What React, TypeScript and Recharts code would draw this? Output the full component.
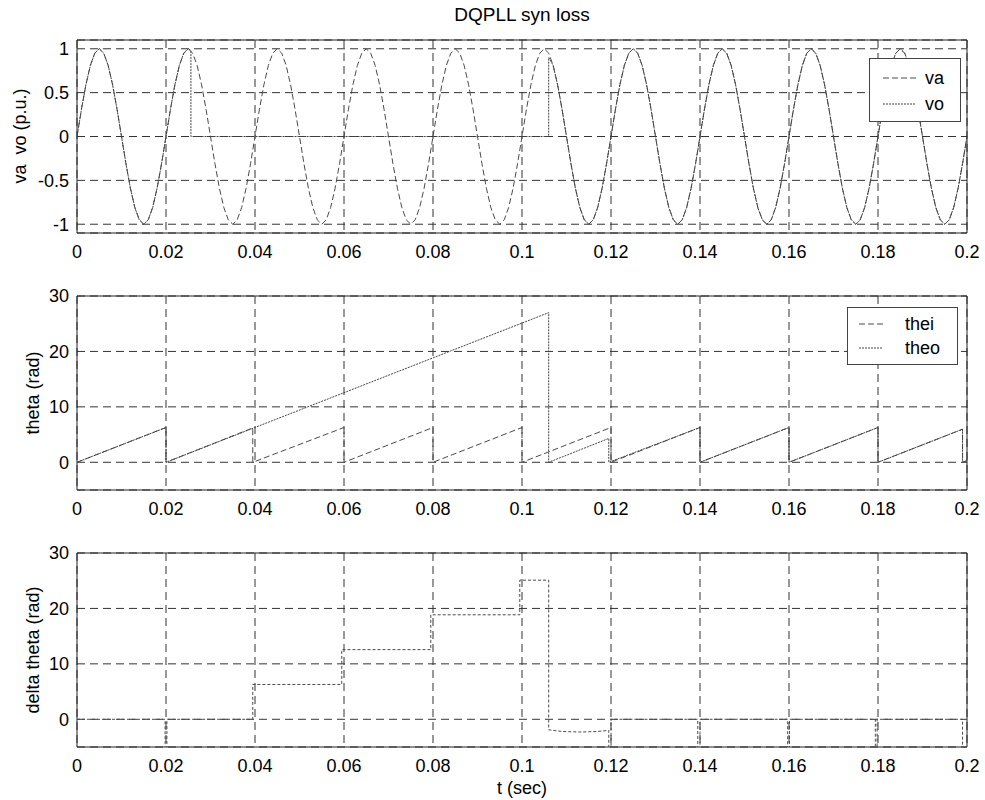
import { LineChart, Line, XAxis, YAxis, CartesianGrid, ReferenceArea } from 'recharts';

const FONT = '"Liberation Sans", Arial, Helvetica, sans-serif';

const TIME_TICKS = [0, 0.02, 0.04, 0.06, 0.08, 0.1, 0.12, 0.14, 0.16, 0.18, 0.2];
const VOLT_TICKS = [-1, -0.5, 0, 0.5, 1];
const ANGLE_TICKS = [0, 10, 20, 30];

// va, read every 1 ms from 0 to 200 ms
const VA = [
  0, 0.31, 0.59, 0.81, 0.95, 1, 0.95, 0.81, 0.59, 0.31, 0, -0.31, -0.59, -0.81, -0.95, -1, -0.95, -0.81, -0.59, -0.31,
  0, 0.31, 0.59, 0.81, 0.95, 1, 0.95, 0.81, 0.59, 0.31, 0, -0.31, -0.59, -0.81, -0.95, -1, -0.95, -0.81, -0.59, -0.31,
  0, 0.31, 0.59, 0.81, 0.95, 1, 0.95, 0.81, 0.59, 0.31, 0, -0.31, -0.59, -0.81, -0.95, -1, -0.95, -0.81, -0.59, -0.31,
  0, 0.31, 0.59, 0.81, 0.95, 1, 0.95, 0.81, 0.59, 0.31, 0, -0.31, -0.59, -0.81, -0.95, -1, -0.95, -0.81, -0.59, -0.31,
  0, 0.31, 0.59, 0.81, 0.95, 1, 0.95, 0.81, 0.59, 0.31, 0, -0.31, -0.59, -0.81, -0.95, -1, -0.95, -0.81, -0.59, -0.31,
  0, 0.31, 0.59, 0.81, 0.95, 1, 0.95, 0.81, 0.59, 0.31, 0, -0.31, -0.59, -0.81, -0.95, -1, -0.95, -0.81, -0.59, -0.31,
  0, 0.31, 0.59, 0.81, 0.95, 1, 0.95, 0.81, 0.59, 0.31, 0, -0.31, -0.59, -0.81, -0.95, -1, -0.95, -0.81, -0.59, -0.31,
  0, 0.31, 0.59, 0.81, 0.95, 1, 0.95, 0.81, 0.59, 0.31, 0, -0.31, -0.59, -0.81, -0.95, -1, -0.95, -0.81, -0.59, -0.31,
  0, 0.31, 0.59, 0.81, 0.95, 1, 0.95, 0.81, 0.59, 0.31, 0, -0.31, -0.59, -0.81, -0.95, -1, -0.95, -0.81, -0.59, -0.31,
  0, 0.31, 0.59, 0.81, 0.95, 1, 0.95, 0.81, 0.59, 0.31, 0, -0.31, -0.59, -0.81, -0.95, -1, -0.95, -0.81, -0.59, -0.31,
  0,
];

// vo: tracks va up to 25 ms, drops out, resyncs at 106 ms
const VO_HEAD = [
  0, 0.31, 0.59, 0.81, 0.95, 1, 0.95, 0.81, 0.59, 0.31, 0, -0.31, -0.59, -0.81, -0.95, -1, -0.95, -0.81, -0.59, -0.31,
  0, 0.31, 0.59, 0.81, 0.95, 1,
];
const VO_DROPOUT: [number, number][] = [[25.6, 0.98], [25.6, 0], [106, 0], [106, 0.9]];
const VO_TAIL_START = 107;
const VO_TAIL = [
  0.81, 0.59, 0.31, 0, -0.31, -0.59, -0.81, -0.95, -1, -0.95, -0.81, -0.59, -0.31,
  0, 0.31, 0.59, 0.81, 0.95, 1, 0.95, 0.81, 0.59, 0.31, 0, -0.31, -0.59, -0.81, -0.95, -1, -0.95, -0.81, -0.59, -0.31,
  0, 0.31, 0.59, 0.81, 0.95, 1, 0.95, 0.81, 0.59, 0.31, 0, -0.31, -0.59, -0.81, -0.95, -1, -0.95, -0.81, -0.59, -0.31,
  0, 0.31, 0.59, 0.81, 0.95, 1, 0.95, 0.81, 0.59, 0.31, 0, -0.31, -0.59, -0.81, -0.95, -1, -0.95, -0.81, -0.59, -0.31,
  0, 0.31, 0.59, 0.81, 0.95, 1, 0.95, 0.81, 0.59, 0.31, 0, -0.31, -0.59, -0.81, -0.95, -1, -0.95, -0.81, -0.59, -0.31,
  0,
];

// angles as [ms, rad] breakpoints
const THEI: [number, number][] = [
  [0, 0], [20, 6.28], [20, 0], [39.5, 6.2], [39.5, 0], [60, 6.28], [60, 0], [80, 6.28], [80, 0],
  [100, 6.28], [100, 0], [120, 6.28], [120, 0], [140, 6.28], [140, 0], [160, 6.28], [160, 0],
  [180, 6.28], [180, 0], [199, 5.97], [199, 0], [200, 0.3],
];
const THEO: [number, number][] = [
  [0, 0], [20, 6.28], [20, 0], [106, 27], [106, 0], [119.5, 4.3], [119.5, 0], [140, 6.28], [140, 0],
  [160, 6.28], [160, 0], [180, 6.28], [180, 0], [199, 5.97], [199, 0], [200, 0.3],
];
const DELTA: [number, number][] = [
  [0, 0], [19.8, 0], [19.8, -6.3], [20.2, -6.3], [20.2, 0], [39.5, 0], [39.5, 6.28], [59.5, 6.28], [59.5, 12.57],
  [79.5, 12.57], [79.5, 18.85], [99.5, 18.85], [99.5, 25.1], [106, 25.1], [106, -1.9], [109, -2.2],
  [113, -2.3], [117, -2.2], [119.5, -2.0], [119.5, -6.3], [120, -6.3], [120, 0],
  [139.5, 0], [139.5, -6.3], [140, -6.3], [140, 0], [159.7, 0], [159.7, -6.3], [160.1, -6.3], [160.1, 0],
  [179.4, 0], [179.4, -6.3], [179.8, -6.3], [179.8, 0], [199, 0], [199, -6.3], [200, -6.3],
];

const toPts = (pairs: [number, number][]) => pairs.map(([ms, v]) => ({ t: ms / 1000, v }));
const vaData = VA.map((v, i) => ({ t: i / 1000, v }));
const voData = toPts([
  ...VO_HEAD.map((v, i) => [i, v] as [number, number]),
  ...VO_DROPOUT,
  ...VO_TAIL.map((v, i) => [VO_TAIL_START + i, v] as [number, number]),
]);

const GRID = '#333';
const TICK = { fill: '#000', fontSize: 18, fontFamily: FONT };

type Series = { data: { t: number; v: number }[]; stroke: string; dash: string };

function Panel({ top, height, yDomain, yTicks, series }: {
  top: number; height: number; yDomain: [number, number]; yTicks: number[]; series: Series[];
}) {
  return (
    <div style={{ position: 'absolute', left: 0, top }}>
      <LineChart width={985} height={height} margin={{ top: 40, right: 18, bottom: 0, left: 0 }}>
        <CartesianGrid stroke={GRID} strokeDasharray="8 5" />
        <XAxis
          type="number"
          dataKey="t"
          domain={[0, 0.2]}
          ticks={TIME_TICKS}
          allowDataOverflow
          height={37}
          axisLine={false}
          tickLine={false}
          tickSize={0}
          tickMargin={12}
          tick={TICK}
        />
        <YAxis
          type="number"
          dataKey="v"
          domain={yDomain}
          ticks={yTicks}
          allowDataOverflow
          width={77}
          axisLine={false}
          tickLine={false}
          tickSize={0}
          tickMargin={8}
          tick={TICK}
        />
        <ReferenceArea x1={0} x2={0.2} y1={yDomain[0]} y2={yDomain[1]} fill="none" stroke="#222" strokeWidth={1} />
        {series.map((s, i) => (
          <Line
            key={i}
            data={s.data}
            dataKey="v"
            type="linear"
            stroke={s.stroke}
            strokeWidth={1}
            strokeDasharray={s.dash}
            dot={false}
            activeDot={false}
            isAnimationActive={false}
          />
        ))}
      </LineChart>
    </div>
  );
}

function YLabel({ x, y, text }: { x: number; y: number; text: string }) {
  return (
    <div style={{
      position: 'absolute', left: x, top: y, transform: 'translate(-50%, -50%) rotate(-90deg)',
      whiteSpace: 'pre', fontSize: 18, lineHeight: '20px',
    }}>{text}</div>
  );
}

function LegendBox({ left, top, width, height, items }: {
  left: number; top: number; width: number; height: number;
  items: { label: string; y: number; x1: number; x2: number; tx: number; stroke: string; dash: string }[];
}) {
  return (
    <div style={{ position: 'absolute', left, top, width, height, border: '1px solid #444', background: '#fff' }}>
      {items.map((it) => (
        <div key={it.label}>
          <svg style={{ position: 'absolute', left: 0, top: 0 }} width={width} height={height}>
            <line x1={it.x1} x2={it.x2} y1={it.y} y2={it.y} stroke={it.stroke} strokeDasharray={it.dash} />
          </svg>
          <div style={{ position: 'absolute', left: it.tx, top: it.y - 10, lineHeight: '20px', fontSize: 18 }}>{it.label}</div>
        </div>
      ))}
    </div>
  );
}

export default function App() {
  const vaStyle = { stroke: '#4a4a4a', dash: '6 3' };
  const voStyle = { stroke: '#444', dash: '2 1' };
  return (
    <div style={{ position: 'absolute', left: 0, top: 0, width: 985, height: 800, background: '#fff', fontFamily: FONT, color: '#000' }}>
      <div style={{ position: 'absolute', left: 77, width: 890, top: 5, textAlign: 'center', fontSize: 19, lineHeight: '20px' }}>
        DQPLL syn loss
      </div>

      <Panel top={0} height={270} yDomain={[-1.1, 1.1]} yTicks={VOLT_TICKS}
        series={[{ data: vaData, ...vaStyle }, { data: voData, ...voStyle }]} />
      <Panel top={256} height={271} yDomain={[-5, 30]} yTicks={ANGLE_TICKS}
        series={[{ data: toPts(THEI), ...vaStyle }, { data: toPts(THEO), ...voStyle }]} />
      <Panel top={513} height={271} yDomain={[-5, 30]} yTicks={ANGLE_TICKS}
        series={[{ data: toPts(DELTA), stroke: '#4a4a4a', dash: '3 2' }]} />

      <YLabel x={20} y={136} text="va  vo (p.u.)" />
      <YLabel x={33} y={393} text="theta (rad)" />
      <YLabel x={33} y={650} text="delta theta (rad)" />

      <div style={{ position: 'absolute', left: 77, width: 890, top: 779, textAlign: 'center', fontSize: 18, lineHeight: '18px' }}>
        t (sec)
      </div>

      <LegendBox left={869} top={58} width={90} height={62} items={[
        { label: 'va', y: 19, x1: 13, x2: 46, tx: 55, ...vaStyle },
        { label: 'vo', y: 45, x1: 13, x2: 46, tx: 55, ...voStyle },
      ]} />
      <LegendBox left={847} top={307} width={109} height={56} items={[
        { label: 'thei', y: 16, x1: 11, x2: 35, tx: 57, ...vaStyle },
        { label: 'theo', y: 40, x1: 11, x2: 35, tx: 57, ...voStyle },
      ]} />
    </div>
  );
}
